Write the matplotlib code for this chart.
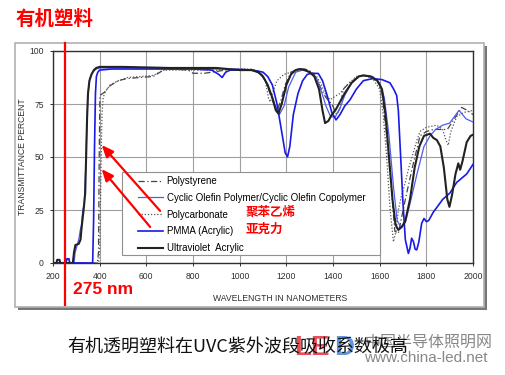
import matplotlib
matplotlib.use("Agg")
import matplotlib.pyplot as plt
from matplotlib.patches import Rectangle
import matplotlib.transforms as mtransforms

plt.rcParams['font.family'] = ['Liberation Sans', 'Noto Sans CJK SC', 'DejaVu Sans']

# ---------------- data ----------------
ps_nm = [200, 390, 395, 398, 401, 420, 444, 480, 516, 573, 630, 673, 700, 780, 800, 850, 880, 910, 940, 1000,
         1060, 1090, 1110, 1130, 1150, 1160, 1175, 1195, 1220, 1250, 1280, 1310, 1330, 1350, 1370, 1395, 1416,
         1430, 1444, 1470, 1500, 1530, 1560, 1590, 1610, 1630, 1650, 1665, 1680, 1695, 1710, 1740, 1773, 1800,
         1830, 1860, 1890, 1920, 1951, 1975, 2000]
ps_t = [0, 0, 5, 50, 79, 80.5, 83.6, 86, 87, 87.5, 88, 91, 91.5, 91, 89.5, 89.5, 90, 90.5, 91, 91.5,
        91, 89.5, 86, 80, 74, 72, 76, 84, 90, 91.5, 91.5, 90, 87, 82, 78, 75, 70,
        73, 82, 85, 87, 88.5, 88, 86, 80, 60, 35, 15, 14, 22, 30, 45, 60, 62,
        63, 63, 63, 68, 73.4, 72, 70]

cop_nm = [200, 255, 260, 268, 272, 290, 295, 305, 312, 316, 322, 328, 334, 340, 345, 350, 358, 370, 385, 400,
          600, 800, 1000, 1060, 1090, 1110, 1130, 1150, 1170, 1190, 1210, 1240, 1270, 1300, 1330, 1350, 1370,
          1390, 1410, 1430, 1450, 1480, 1510, 1540, 1570, 1600, 1620, 1640, 1660, 1675, 1690, 1710, 1730,
          1760, 1790, 1816, 1840, 1870, 1900, 1940, 1970, 2000]
cop_t = [0, 0, 2, 2, 0, 0, 5, 9, 12, 15, 18, 25, 28, 45, 65, 80, 87, 90, 91.5, 92,
         92, 91.5, 91.5, 91, 89, 86, 81, 75, 70, 74, 83, 90, 91, 90, 87, 81, 74,
         69, 69, 73, 79, 85, 88, 88.5, 88, 85, 78, 60, 35, 20, 17, 19, 28,
         42, 55, 60, 63, 65, 66, 72, 68, 66.5]

pc_nm = [200, 395, 400, 405, 410, 415, 425, 445, 480, 520, 580, 630, 673, 700, 800, 900, 1000, 1050, 1090,
         1110, 1125, 1132, 1140, 1160, 1190, 1220, 1260, 1300, 1330, 1350, 1370, 1387, 1400, 1430, 1460,
         1500, 1530, 1570, 1600, 1615, 1630, 1645, 1659, 1670, 1680, 1694, 1710, 1725, 1744, 1760, 1773,
         1800, 1844, 1870, 1884, 1894, 1905, 1930, 1960, 2000]
pc_t = [0, 0, 5, 40, 70, 78, 81, 84, 86, 87.5, 88, 88.5, 91, 91, 91, 91, 91.5, 91.5, 90,
        86, 77, 76, 80, 86, 89, 90, 91, 90.5, 88, 84, 79, 77, 78, 80, 84,
        88, 88.5, 87, 82, 70, 50, 25, 10, 15, 25, 32, 38, 45, 52, 58, 62,
        64, 65, 63, 58, 55.5, 62, 69, 71, 72]

pmma_nm = [200, 255, 260, 268, 272, 370, 374, 378, 382, 386, 392, 400, 450, 600, 800, 880, 910, 925, 940,
           960, 1050, 1080, 1100, 1120, 1140, 1160, 1180, 1195, 1205, 1215, 1230, 1250, 1270, 1290, 1310,
           1337, 1355, 1375, 1395, 1413, 1430, 1450, 1473, 1500, 1530, 1571, 1610, 1644, 1660, 1673, 1680,
           1690, 1700, 1710, 1723, 1730, 1737, 1745, 1752, 1759, 1768, 1780, 1790, 1800, 1810, 1830, 1847,
           1870, 1901, 1930, 1973, 2000]
pmma_t = [0, 0, 2, 2, 0, 0, 20, 55, 80, 88, 90, 91, 91.5, 91.5, 91.5, 91, 89, 87.5, 90,
          91, 91, 90.5, 90, 88, 84, 75, 62, 52, 50, 55, 70, 80, 86, 89, 89.5,
          89.4, 86, 79, 71, 67.5, 70, 74, 77, 82, 86, 87, 86.5, 85, 82, 79, 72,
          50, 28, 11, 4.5, 7, 11.7, 10, 6.5, 6.2, 10, 18.7, 21, 19.5, 20, 24, 26.5,
          30, 33, 38, 42, 46.5]

uv_nm = [200, 215, 218, 228, 231, 285, 290, 296, 310, 318, 322, 328, 333, 338, 342, 346, 350, 356, 365, 375,
         385, 400, 500, 700, 900, 950, 1000, 1050, 1080, 1100, 1120, 1140, 1155, 1166, 1180, 1200, 1220,
         1240, 1260, 1280, 1300, 1320, 1340, 1355, 1366, 1380, 1395, 1410, 1430, 1450, 1480, 1510, 1530,
         1560, 1590, 1610, 1625, 1640, 1655, 1668, 1680, 1695, 1710, 1730, 1750, 1770, 1790, 1816, 1830,
         1845, 1860, 1875, 1890, 1899, 1910, 1925, 1937, 1945, 1955, 1973, 1990, 2000]
uv_t = [0, 0, 1.5, 1.5, 0, 0, 5, 8.5, 9, 11, 16, 22, 27, 33, 50, 68, 80, 86, 89, 91,
        92, 92.5, 92.5, 92, 92, 91.5, 91, 91, 90, 88, 84, 78, 72, 70.5, 75, 84, 89,
        91, 91.5, 91, 90, 88, 82, 72, 66, 67, 70, 72, 76, 80, 85, 88, 88.5,
        88, 86, 82, 70, 50, 30, 18, 15.6, 17, 20, 30, 45, 55, 60, 61, 59,
        58, 55, 45, 30, 26.5, 32, 42, 47, 44, 48, 57, 60, 60.5]

legend_labels = ["Polystyrene", "Cyclic Olefin Polymer/Cyclic Olefin Copolymer",
                 "Polycarbonate", "PMMA (Acrylic)", "Ultraviolet  Acrylic"]
x_ticks = [200, 400, 600, 800, 1000, 1200, 1400, 1600, 1800, 2000]
y_ticks = [0, 25, 50, 75, 100]
marker_nm = 250

W, H = 505, 375
fig = plt.figure(figsize=(W / 100, H / 100), dpi=100)
fig.patch.set_facecolor('white')

def fx(px):
    return px / W

def fy(py):
    return 1 - py / H

# inset frame with shadow (behind the axes)
fig.add_artist(Rectangle((fx(18), fy(310)), fx(469), 264 / H, transform=fig.transFigure,
                         facecolor='#777777', edgecolor='none', zorder=-3))
fig.add_artist(Rectangle((fx(15), fy(307)), fx(469), 264 / H, transform=fig.transFigure,
                         facecolor='white', edgecolor='#b0b0b0', lw=1.2, zorder=-2))

AX_L, AX_T, AX_W, AX_H = 53, 51, 420, 212
ax = fig.add_axes([fx(AX_L), fy(AX_T + AX_H), fx(AX_W), AX_H / H])
ax.set_zorder(1)
ax.patch.set_alpha(0)
ax.set_xlim(200, 2000)
ax.set_ylim(0, 100)
ax.set_xticks(x_ticks)
ax.set_yticks(y_ticks)
ax.grid(True, color='#a0a0a0', lw=0.8)
ax.set_axisbelow(True)
for s in ax.spines.values():
    s.set_color('#303030')
    s.set_linewidth(1.0)
ax.tick_params(labelsize=6.2, colors='#303030', length=2.5, width=0.7, pad=4)

def axx(px):
    return (px - AX_L) / AX_W

def axy(py):
    return (AX_T + AX_H - py) / AX_H

ax.plot(ps_nm, ps_t, color='#444444', lw=0.9, ls=(0, (5, 2, 1, 2)), label=legend_labels[0], zorder=3)
ax.plot(cop_nm, cop_t, color='#4f5cf2', lw=0.9, label=legend_labels[1], zorder=3)
ax.plot(pc_nm, pc_t, color='#555555', lw=0.9, ls=(0, (1, 1.5)), label=legend_labels[2], zorder=3)
ax.plot(pmma_nm, pmma_t, color='#1a1ae6', lw=1.2, label=legend_labels[3], zorder=4)
ax.plot(uv_nm, uv_t, color='#222222', lw=1.5, label=legend_labels[4], zorder=5)

ax.set_xlabel("WAVELENGTH IN NANOMETERS", fontsize=6.2, color='#303030')
ax.xaxis.set_label_coords(axx(280), axy(294))
ax.set_ylabel("TRANSMITTANCE PERCENT", fontsize=6.2, color='#303030')
ax.yaxis.set_label_coords(axx(27), 0.5)

# legend frame + legend content
ax.add_patch(Rectangle((axx(122), axy(255)), axx(380) - axx(122), axy(172) - axy(255),
                       transform=ax.transAxes, facecolor='white', edgecolor='#909090', lw=0.8, zorder=6))
leg = ax.legend(loc='upper left', bbox_to_anchor=(axx(138), axy(176)), borderaxespad=0, borderpad=0,
                fontsize=7, handlelength=2.6, handletextpad=0.35, labelspacing=0.7, frameon=False)
leg.set_zorder(7)

# red marker line
trans = mtransforms.blended_transform_factory(ax.transData, ax.transAxes)
ax.plot([marker_nm, marker_nm], [axy(305), axy(43)], transform=trans,
        color='#ff0000', lw=1.6, clip_on=False, zorder=8)

# red arrows
for tail, head in [((667, 23.6), (401, 56.6)), ((624, 16.0), (401, 45.3))]:
    ax.annotate('', xy=head, xytext=tail,
                arrowprops=dict(arrowstyle='-|>,head_length=0.7,head_width=0.3', color='#ff0000', lw=1.6),
                zorder=9)

fig.text(fx(246), fy(213), "聚苯乙烯", color='#ff0000', fontsize=9, fontweight='bold',
         family=['Noto Sans CJK SC'], va='center', ha='left', zorder=10)
fig.text(fx(246), fy(229), "亚克力", color='#ff0000', fontsize=9, fontweight='bold',
         family=['Noto Sans CJK SC'], va='center', ha='left', zorder=10)
fig.text(fx(73), fy(289), "275 nm", color='#ff0000', fontsize=12.5, fontweight='bold',
         family=['Liberation Sans'], va='center', ha='left', zorder=10)

# title
fig.text(fx(16), fy(19), "有机塑料", color='#ff0000', fontsize=14, fontweight='bold',
         family=['Noto Sans CJK SC'], va='center', ha='left')

# watermark
fig.text(fx(294), fy(348), "LE", color='#e63946', fontsize=20, fontweight='bold', alpha=0.9,
         family=['Liberation Sans'], va='center', ha='left', zorder=1)
fig.text(fx(334), fy(348), "D", color='#3a7bd5', fontsize=20, fontweight='bold', alpha=0.8,
         family=['Liberation Sans'], va='center', ha='left', zorder=1)
fig.text(fx(364), fy(342), "中国半导体照明网", color='#7a7a7a', fontsize=11.5, alpha=0.9,
         family=['Noto Sans CJK SC'], va='center', ha='left', zorder=1)
fig.text(fx(364), fy(358), "www.china-led.net", color='#7a7a7a', fontsize=11, alpha=0.9,
         family=['Liberation Sans'], va='center', ha='left', zorder=1)

# caption
fig.text(fx(67), fy(347), "有机透明塑料在UVC紫外波段吸收系数极高", color='#111111', fontsize=13,
         family=['Noto Sans CJK SC', 'DejaVu Sans'], va='center', ha='left', zorder=2)

fig.savefig("out.png", dpi=100)
